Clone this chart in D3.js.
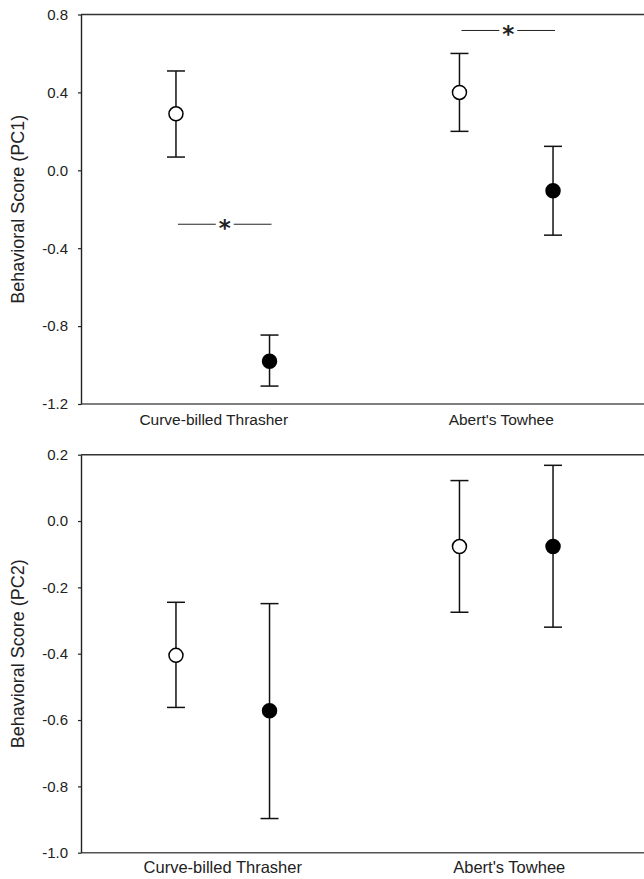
<!DOCTYPE html>
<html>
<head>
<meta charset="utf-8">
<script src="https://cdn.jsdelivr.net/npm/d3@7"></script>
<style>
  body { margin: 0; background: #fff; }
  text { font-family: "Liberation Sans", Arial, sans-serif; fill: #222; }
</style>
</head>
<body>
<svg id="chart" width="644" height="879"></svg>
<script>
// categories on the x axis
const categories = ["Curve-billed Thrasher", "Abert's Towhee"];

// PC1 (top panel): open and filled circles, mean and error bar ends
const pc1Open = [0.29, 0.40];
const pc1OpenLow = [0.068, 0.20];
const pc1OpenHigh = [0.51, 0.60];
const pc1Filled = [-0.98, -0.105];
const pc1FilledLow = [-1.108, -0.333];
const pc1FilledHigh = [-0.846, 0.123];
const pc1SigLevel = [-0.277, 0.718];   // height of the "*" bracket per category
const pc1Ticks = [0.8, 0.4, 0.0, -0.4, -0.8, -1.2];

// PC2 (bottom panel)
const pc2Open = [-0.405, -0.077];
const pc2OpenLow = [-0.562, -0.275];
const pc2OpenHigh = [-0.245, 0.122];
const pc2Filled = [-0.572, -0.077];
const pc2FilledLow = [-0.897, -0.32];
const pc2FilledHigh = [-0.249, 0.168];
const pc2SigLevel = [null, null];
const pc2Ticks = [0.2, 0.0, -0.2, -0.4, -0.6, -0.8, -1.0];

const svg = d3.select("#chart");

// category positions are 1 and 2, open sits left, filled right
const xScale = d3.scaleLinear().domain([0.5, 2.5]).range([81, 648]);
const openShift = -0.165, filledShift = 0.165;

// plain hyphen for negatives, like the original
const fmt = d => (Math.abs(d) < 1e-9 ? 0 : d).toFixed(1);

function drawPanel(cfg) {
  const y = d3.scaleLinear().domain(cfg.domain).range(cfg.range);
  const g = svg.append("g");

  // frame: top and bottom lines
  g.append("line")
    .attr("x1", xScale.range()[0]).attr("x2", xScale.range()[1])
    .attr("y1", y(cfg.domain[1])).attr("y2", y(cfg.domain[1]))
    .attr("stroke", "#333").attr("stroke-width", 1.4);
  g.append("line")
    .attr("x1", xScale.range()[0]).attr("x2", xScale.range()[1])
    .attr("y1", y(cfg.domain[0])).attr("y2", y(cfg.domain[0]))
    .attr("stroke", "#555").attr("stroke-width", 1.4);

  const yAxis = d3.axisLeft(y)
    .tickValues(cfg.ticks)
    .tickFormat(fmt)
    .tickSize(3)
    .tickSizeOuter(0)
    .tickPadding(10);
  const ax = g.append("g")
    .attr("transform", `translate(${xScale.range()[0]},0)`)
    .call(yAxis);
  ax.select(".domain").attr("stroke", "#222").attr("stroke-width", 1.4);
  ax.selectAll(".tick line").attr("stroke", "#222").attr("stroke-width", 1.2);
  ax.selectAll(".tick text")
    .style("font-family", "'Liberation Sans', Arial, sans-serif")
    .style("font-size", "15px")
    .attr("fill", "#222");

  // y title
  g.append("text")
    .attr("transform", `translate(18,${(cfg.range[0] + cfg.range[1]) / 2}) rotate(-90)`)
    .attr("text-anchor", "middle")
    .attr("dy", "0.35em")
    .style("font-size", "18px")
    .text(cfg.title);

  // category labels
  g.selectAll(".cat")
    .data(categories)
    .enter()
    .append("text")
    .attr("class", "cat")
    .attr("x", (d, i) => xScale(i + 1) + cfg.labelDx[i])
    .attr("y", cfg.labelY)
    .attr("text-anchor", "middle")
    .style("font-size", cfg.labelSize)
    .text(d => d);

  // significance brackets
  cfg.sig.forEach((lvl, i) => {
    if (lvl === null) return;
    const xa = xScale(i + 1 + openShift) + 2;
    const xb = xScale(i + 1 + filledShift) + 2;
    const xm = (xa + xb) / 2;
    g.append("line")
      .attr("x1", xa).attr("x2", xm - 9)
      .attr("y1", y(lvl)).attr("y2", y(lvl))
      .attr("stroke", "#222").attr("stroke-width", 1);
    g.append("line")
      .attr("x1", xm + 9).attr("x2", xb)
      .attr("y1", y(lvl)).attr("y2", y(lvl))
      .attr("stroke", "#222").attr("stroke-width", 1);
    g.append("text")
      .attr("x", xm)
      .attr("y", y(lvl) + 11.5)
      .attr("text-anchor", "middle")
      .style("font-family", "'DejaVu Sans', sans-serif")
      .style("font-size", "23px")
      .style("font-weight", "bold")
      .attr("fill", "#111")
      .text("*");
  });

  // error bars then markers
  const series = [
    { shift: openShift, mean: cfg.open, lo: cfg.openLow, hi: cfg.openHigh, fill: "#fff" },
    { shift: filledShift, mean: cfg.filled, lo: cfg.filledLow, hi: cfg.filledHigh, fill: "#000" }
  ];
  series.forEach(s => {
    s.mean.forEach((m, i) => {
      const cx = xScale(i + 1 + s.shift);
      g.append("line")
        .attr("x1", cx).attr("x2", cx)
        .attr("y1", y(s.lo[i])).attr("y2", y(s.hi[i]))
        .attr("stroke", "#111").attr("stroke-width", 1.5);
      [s.lo[i], s.hi[i]].forEach(v => {
        g.append("line")
          .attr("x1", cx - 9).attr("x2", cx + 9)
          .attr("y1", y(v)).attr("y2", y(v))
          .attr("stroke", "#111").attr("stroke-width", 1.5);
      });
      g.append("circle")
        .attr("cx", cx)
        .attr("cy", y(m))
        .attr("r", 7)
        .attr("fill", s.fill)
        .attr("stroke", "#000")
        .attr("stroke-width", 1.5);
    });
  });
}

drawPanel({
  domain: [-1.2, 0.8], range: [404, 14.5], ticks: pc1Ticks,
  title: "Behavioral Score (PC1)",
  open: pc1Open, openLow: pc1OpenLow, openHigh: pc1OpenHigh,
  filled: pc1Filled, filledLow: pc1FilledLow, filledHigh: pc1FilledHigh,
  sig: pc1SigLevel, labelY: 425, labelDx: [-9, -5], labelSize: "15.5px"
});

drawPanel({
  domain: [-1.0, 0.2], range: [852.7, 454.7], ticks: pc2Ticks,
  title: "Behavioral Score (PC2)",
  open: pc2Open, openLow: pc2OpenLow, openHigh: pc2OpenHigh,
  filled: pc2Filled, filledLow: pc2FilledLow, filledHigh: pc2FilledHigh,
  sig: pc2SigLevel, labelY: 873, labelDx: [0, 3], labelSize: "16.5px"
});
</script>
</body>
</html>
